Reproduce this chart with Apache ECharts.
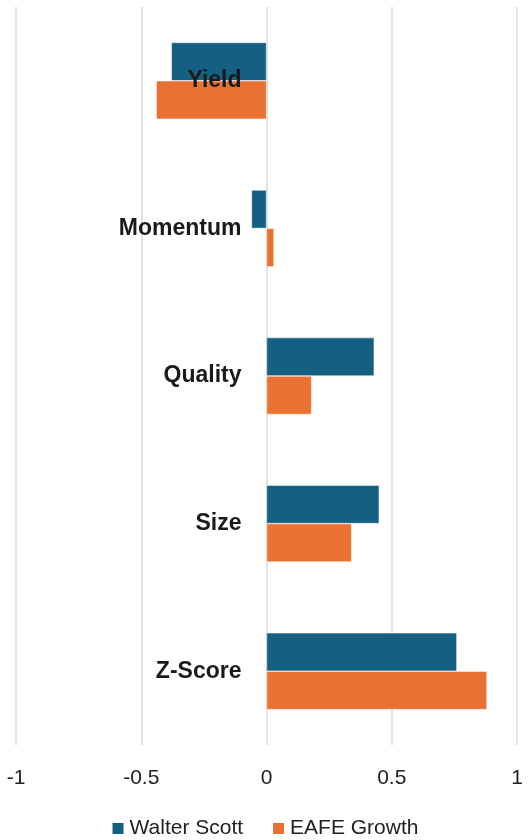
<!DOCTYPE html>
<html>
<head>
<meta charset="utf-8">
<script src="https://cdn.jsdelivr.net/npm/echarts@6/dist/echarts.min.js"></script>
<style>
html,body{margin:0;padding:0;background:#fff;}
#chart{width:529px;height:840px;}
</style>
</head>
<body>
<div id="chart"></div>
<script>
const categories = ['Yield', 'Momentum', 'Quality', 'Size', 'Z-Score'];
const walterScott = [-0.38, -0.06, 0.43, 0.45, 0.76];
const eafeGrowth = [-0.44, 0.03, 0.18, 0.34, 0.88];
const seriesNames = ['Walter Scott', 'EAFE Growth'];

const W = 529, GL = 16, GR = 12;
const chart = echarts.init(document.getElementById('chart'), null, {renderer: 'canvas'});
chart.setOption({
  animation: false,
  backgroundColor: '#ffffff',
  grid: {left: GL, right: GR, top: 7, bottom: 95, containLabel: false, outerBoundsMode: 'none'},
  legend: {
    data: seriesNames,
    bottom: -4,
    left: 'center',
    icon: 'rect',
    itemWidth: 13,
    itemHeight: 13,
    itemGap: 28,
    textStyle: {fontFamily: 'Liberation Sans, Arial, sans-serif', fontSize: 21, color: '#222'}
  },
  xAxis: {
    type: 'value',
    min: -1,
    max: 1,
    interval: 0.5,
    axisLine: {show: false},
    axisTick: {show: false},
    splitLine: {show: true, lineStyle: {color: '#d9d9d9', width: 1.5}},
    axisLabel: {
      margin: 23,
      fontFamily: 'Liberation Sans, Arial, sans-serif',
      fontSize: 21,
      color: '#222'
    }
  },
  yAxis: {
    type: 'category',
    data: categories,
    inverse: true,
    position: 'left',
    offset: -(W - GL - GR) / 2,
    axisLine: {show: false, onZero: false},
    axisTick: {show: false},
    splitLine: {show: false},
    axisLabel: {
      margin: 25,
      fontFamily: 'Liberation Sans, Arial, sans-serif',
      fontWeight: 'bold',
      fontSize: 23,
      color: '#1a1a1a'
    },
    z: 5
  },
  series: [
    {
      name: seriesNames[0],
      type: 'bar',
      data: walterScott,
      barGap: '0%',
      barCategoryGap: '48%',
      itemStyle: {color: '#156082', borderColor: '#ffffff', borderWidth: 0.5},
      z: 1
    },
    {
      name: seriesNames[1],
      type: 'bar',
      data: eafeGrowth,
      barGap: '0%',
      barCategoryGap: '48%',
      itemStyle: {color: '#E97132', borderColor: '#ffffff', borderWidth: 0.5},
      z: 1
    }
  ]
});
</script>
</body>
</html>
